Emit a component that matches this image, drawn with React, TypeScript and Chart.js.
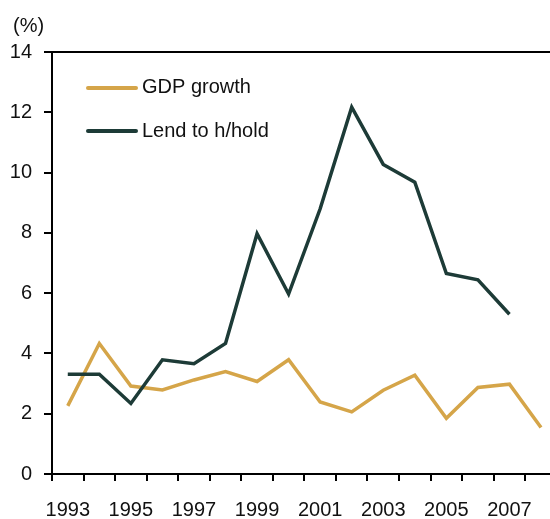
import React, { useEffect, useRef } from "react";
import { Chart, registerables } from "chart.js";

Chart.register(...registerables);

// Years on the category axis
const years = [
  "1993", "1994", "1995", "1996", "1997", "1998", "1999", "2000",
  "2001", "2002", "2003", "2004", "2005", "2006", "2007", "2008",
];

// Years that carry a tick label
const labelledYears = ["1993", "1995", "1997", "1999", "2001", "2003", "2005", "2007"];

// Annual rates, %
const gdpGrowth = [2.26, 4.33, 2.92, 2.79, 3.12, 3.4, 3.07, 3.79, 2.39, 2.06, 2.78, 3.28, 1.85, 2.87, 2.98, 1.54];
const lendToHousehold = [3.31, 3.31, 2.34, 3.79, 3.66, 4.33, 7.97, 5.97, 8.8, 12.17, 10.27, 9.68, 6.65, 6.44, 5.3, null];

const yTicks = [0, 2, 4, 6, 8, 10, 12, 14];

const seriesNames = ["GDP growth", "Lend to h/hold"];
const GOLD = "#D5A549";
const DARK = "#1D3B37";
const FONT = "Liberation Sans, Arial, sans-serif";
const FONT_SIZE = 20;

const frameAndLegend = {
  id: "frameAndLegend",
  afterDraw(chart: any) {
    const { ctx, chartArea } = chart;
    ctx.save();
    // top frame line
    ctx.strokeStyle = "#000";
    ctx.lineWidth = 2;
    ctx.beginPath();
    ctx.moveTo(chartArea.left - 1, chartArea.top);
    ctx.lineTo(chartArea.right, chartArea.top);
    ctx.stroke();

    // unit label
    ctx.fillStyle = "#111";
    ctx.font = `${FONT_SIZE}px ${FONT}`;
    ctx.textAlign = "left";
    ctx.textBaseline = "alphabetic";
    ctx.fillText("(%)", 13, 32);

    // legend
    const entries = [
      { name: seriesNames[0], color: GOLD, lineY: 88, baseY: 93 },
      { name: seriesNames[1], color: DARK, lineY: 131, baseY: 137 },
    ];
    entries.forEach((e) => {
      ctx.strokeStyle = e.color;
      ctx.lineWidth = 4;
      ctx.lineCap = "round";
      ctx.beginPath();
      ctx.moveTo(88, e.lineY);
      ctx.lineTo(136, e.lineY);
      ctx.stroke();
      ctx.fillText(e.name, 142, e.baseY);
    });
    ctx.restore();
  },
};

export default function App() {
  const canvasRef = useRef<HTMLCanvasElement | null>(null);

  useEffect(() => {
    const canvas = canvasRef.current;
    if (!canvas) return;
    const tickFont = { family: FONT, size: FONT_SIZE };
    const chart = new Chart(canvas, {
      type: "line",
      data: {
        labels: years,
        datasets: [
          {
            label: seriesNames[0],
            data: gdpGrowth,
            borderColor: GOLD,
            borderWidth: 3.5,
            pointRadius: 0,
            tension: 0,
            borderJoinStyle: "miter",
            order: 1,
          },
          {
            label: seriesNames[1],
            data: lendToHousehold,
            borderColor: DARK,
            borderWidth: 3.5,
            pointRadius: 0,
            tension: 0,
            borderJoinStyle: "miter",
            spanGaps: false,
            order: 0,
          },
        ],
      },
      options: {
        responsive: false,
        animation: false,
        devicePixelRatio: 1,
        layout: { padding: { top: 52, left: 0, right: 0, bottom: 0 } },
        plugins: {
          legend: { display: false },
          tooltip: { enabled: false },
        },
        scales: {
          x: {
            type: "category",
            offset: true,
            grid: {
              offset: true,
              drawOnChartArea: false,
              drawTicks: true,
              tickLength: 7,
              lineWidth: 2,
              color: "#000",
            },
            border: { display: true, color: "#000", width: 2 },
            ticks: {
              autoSkip: false,
              maxRotation: 0,
              padding: 17,
              color: "#111",
              font: tickFont,
              callback: (_v: any, i: number) =>
                labelledYears.includes(years[i]) ? years[i] : "",
            },
            afterFit: (s: any) => {
              s.height = 45;
            },
          },
          y: {
            min: 0,
            max: 14,
            afterBuildTicks: (s: any) => {
              s.ticks = yTicks.map((v) => ({ value: v }));
            },
            grid: {
              drawOnChartArea: false,
              drawTicks: true,
              tickLength: 8,
              lineWidth: 2,
              color: "#000",
            },
            border: { display: true, color: "#000", width: 2 },
            ticks: {
              padding: 12,
              color: "#111",
              font: tickFont,
            },
            afterFit: (s: any) => {
              s.width = 52;
            },
          },
        },
      },
      plugins: [frameAndLegend],
    });
    return () => chart.destroy();
  }, []);

  return (
    <div
      style={{
        position: "absolute",
        left: 0,
        top: 0,
        width: 550,
        height: 519,
        overflow: "hidden",
        background: "#fff",
      }}
    >
      <canvas ref={canvasRef} width={558} height={519} style={{ width: 558, height: 519 }} />
    </div>
  );
}
